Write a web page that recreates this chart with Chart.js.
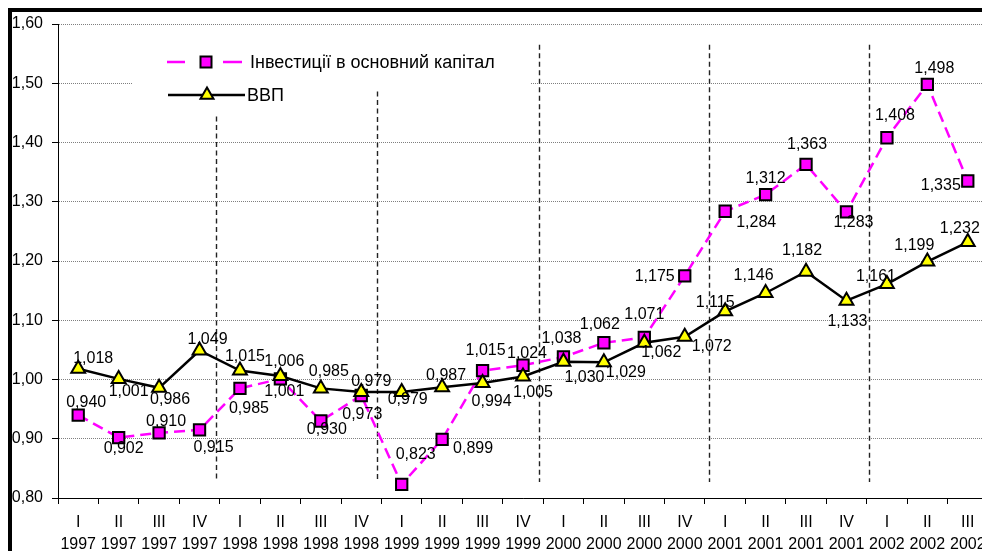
<!DOCTYPE html>
<html>
<head>
<meta charset="utf-8">
<script src="https://cdn.jsdelivr.net/npm/chart.js@4.4.0/dist/chart.umd.min.js"></script>
<style>
  html, body { margin: 0; padding: 0; background: #fff; overflow: hidden; }
  #wrap { position: relative; width: 1000px; height: 560px; }
</style>
</head>
<body>
<div id="wrap"><canvas id="chart"></canvas></div>
<script>
// Quarter / year categories
const quarterLabels = ['I','II','III','IV','I','II','III','IV','I','II','III','IV',
                       'I','II','III','IV','I','II','III','IV','I','II','III'];
const yearLabels = ['1997','1997','1997','1997','1998','1998','1998','1998',
                    '1999','1999','1999','1999','2000','2000','2000','2000',
                    '2001','2001','2001','2001','2002','2002','2002'];

// Indices (relative to the same quarter of the previous year)
const investment = [0.940, 0.902, 0.910, 0.915, 0.985, 1.001, 0.930, 0.973,
                    0.823, 0.899, 1.015, 1.024, 1.038, 1.062, 1.071, 1.175,
                    1.284, 1.312, 1.363, 1.283, 1.408, 1.498, 1.335];
const gdp = [1.018, 1.001, 0.986, 1.049, 1.015, 1.006, 0.985, 0.979,
             0.979, 0.987, 0.994, 1.005, 1.030, 1.029, 1.062, 1.072,
             1.115, 1.146, 1.182, 1.133, 1.161, 1.199, 1.232];

const seriesNames = ['Інвестиції в основний капітал', 'ВВП'];

// Y axis range
const yMin = 0.80, yMax = 1.60, yStep = 0.10;

// Year separators: position on the category axis and the value where each dash line starts
const separatorAt = [3.40, 7.38, 11.40, 15.60, 19.55];
const separatorTop = [1.444, 1.486, 1.565, 1.565, 1.565];
const separatorBottom = 0.827;

// Value-label placement (label centre offset from its point, px)
const investLabelShift = [[8,-12],[5,11],[7,-11],[14,18],[9,20],[4,13],[6,9],[1,19],
  [14,-30],[31,9],[3,-20],[4,-12],[-2,-18],[-4,-18],[0,-23],[-30,1],
  [31,11],[0,-16],[1,-20],[7,11],[8,-22],[7,-16],[-27,5]];
const gdpLabelShift = [[15,-10],[10,13],[11,12],[8,-11],[5,-14],[4,-14],[8,-17],[10,-10],
  [6,8],[4,-12],[9,19],[10,16],[21,16],[22,10],[17,10],[27,10],
  [-10,-9],[-12,-17],[-4,-21],[1,21],[-11,-8],[-13,-16],[-8,-13]];

const FONT = '"Liberation Sans", Arial, Helvetica, sans-serif';
const MAGENTA = '#FF00FF';
const YELLOW = '#FFFF00';

const fmt = (v, d) => v.toFixed(d).replace('.', ',');

function pathSquare(ctx, x, y, side) {
  ctx.beginPath();
  ctx.rect(x - side / 2, y - side / 2, side, side);
}
function pathTriangle(ctx, x, y, r) {
  ctx.beginPath();
  ctx.moveTo(x, y - r);
  ctx.lineTo(x + 0.866 * r, y + 0.5 * r);
  ctx.lineTo(x - 0.866 * r, y + 0.5 * r);
  ctx.closePath();
}

// Legend box, year separators, value labels and outer frame
const decorations = {
  id: 'decorations',
  beforeDraw(chart) {
    const ctx = chart.ctx;
    ctx.save();
    ctx.fillStyle = '#fff';
    ctx.fillRect(0, 0, chart.width, chart.height);
    ctx.restore();
  },
  beforeDatasetsDraw(chart) {
    const ctx = chart.ctx;
    const a = chart.chartArea;
    const xs = chart.scales.x, ys = chart.scales.y;
    ctx.save();
    // legend background
    ctx.fillStyle = '#fff';
    ctx.fillRect(a.left + 75, a.top + 12, 397, 80);

    // legend entries
    const lx = a.left + 109, ty1 = a.top + 38, ty2 = a.top + 71;
    ctx.lineWidth = 2.5;
    ctx.strokeStyle = MAGENTA;
    ctx.beginPath();
    ctx.moveTo(lx, ty1); ctx.lineTo(lx + 18, ty1);
    ctx.moveTo(lx + 56, ty1); ctx.lineTo(lx + 75, ty1);
    ctx.stroke();
    pathSquare(ctx, lx + 39, ty1, 11);
    ctx.fillStyle = MAGENTA; ctx.fill();
    ctx.lineWidth = 2; ctx.strokeStyle = '#000'; ctx.stroke();

    ctx.lineWidth = 2.5;
    ctx.strokeStyle = '#000';
    ctx.beginPath();
    ctx.moveTo(lx + 1, ty2); ctx.lineTo(lx + 78, ty2);
    ctx.stroke();
    pathTriangle(ctx, lx + 40, ty2, 7.5);
    ctx.fillStyle = YELLOW; ctx.fill();
    ctx.lineWidth = 2; ctx.strokeStyle = '#000'; ctx.stroke();

    ctx.fillStyle = '#000';
    ctx.font = '18px ' + FONT;
    ctx.textAlign = 'left';
    ctx.textBaseline = 'middle';
    ctx.fillText(seriesNames[0], lx + 83, ty1 + 1);
    ctx.fillText(seriesNames[1], lx + 80, ty2 + 1);

    // year separators
    ctx.strokeStyle = '#222';
    ctx.lineWidth = 1.4;
    ctx.setLineDash([5, 3.5]);
    separatorAt.forEach((pos, i) => {
      const x = Math.round(xs.getPixelForValue(pos)) + 0.5;
      ctx.beginPath();
      ctx.moveTo(x, ys.getPixelForValue(separatorTop[i]));
      ctx.lineTo(x, ys.getPixelForValue(separatorBottom));
      ctx.stroke();
    });
    ctx.restore();
  },
  afterDatasetsDraw(chart) {
    const ctx = chart.ctx;
    ctx.save();
    ctx.fillStyle = '#000';
    ctx.font = '16px ' + FONT;
    ctx.textAlign = 'center';
    ctx.textBaseline = 'middle';
    chart.data.datasets.forEach((ds, di) => {
      const meta = chart.getDatasetMeta(di);
      const shifts = ds.labelShift;
      meta.data.forEach((pt, i) => {
        const s = shifts[i];
        ctx.fillText(fmt(ds.data[i], 3), pt.x + s[0], pt.y + s[1]);
      });
    });
    ctx.restore();
  },
  afterDraw(chart) {
    const ctx = chart.ctx;
    ctx.save();
    ctx.fillStyle = '#000';
    ctx.fillRect(8, 8, chart.width, 4);
    ctx.fillRect(8, 8, 4, chart.height);
    ctx.restore();
  }
};

const labels = quarterLabels.map((q, i) => [q, yearLabels[i]]);

new Chart(document.getElementById('chart'), {
  type: 'line',
  data: {
    labels: labels,
    datasets: [
      {
        label: seriesNames[1],
        data: gdp,
        labelShift: gdpLabelShift,
        borderColor: '#000',
        borderWidth: 2.5,
        pointStyle: 'triangle',
        pointRadius: 8,
        pointBackgroundColor: YELLOW,
        pointBorderColor: '#000',
        pointBorderWidth: 2,
        tension: 0
      },
      {
        label: seriesNames[0],
        data: investment,
        labelShift: investLabelShift,
        borderColor: MAGENTA,
        borderWidth: 2.5,
        borderDash: [11, 6],
        pointStyle: 'rect',
        pointRadius: 8,
        pointBackgroundColor: MAGENTA,
        pointBorderColor: '#000',
        pointBorderWidth: 2,
        tension: 0
      }
    ]
  },
  options: {
    responsive: true,
    maintainAspectRatio: false,
    animation: false,
    layout: { padding: { left: 0, top: 24, right: 12, bottom: 0 } },
    plugins: { legend: { display: false }, tooltip: { enabled: false } },
    scales: {
      x: {
        type: 'category',
        offset: true,
        grid: { display: true, offset: true, drawOnChartArea: false, drawTicks: true,
                tickLength: 6, tickColor: '#000', tickWidth: 1 },
        border: { display: true, color: '#000', width: 1 },
        ticks: { color: '#000', font: { family: FONT, size: 16, lineHeight: 1.35 },
                 padding: 8, maxRotation: 0, minRotation: 0, autoSkip: false },
        afterFit: s => { s.height = 62; }
      },
      y: {
        min: yMin,
        max: yMax,
        grid: { color: '#7f7f7f', lineWidth: 1, drawTicks: true, tickLength: 6,
                tickColor: '#000', tickWidth: 1 },
        border: { display: true, color: '#000', width: 1, dash: [1, 1] },
        ticks: { stepSize: yStep, color: '#000', font: { family: FONT, size: 16 }, padding: 9,
                 callback: v => fmt(v, 2) },
        afterFit: s => { s.width = 58; }
      }
    }
  },
  plugins: [decorations]
});
</script>
</body>
</html>
